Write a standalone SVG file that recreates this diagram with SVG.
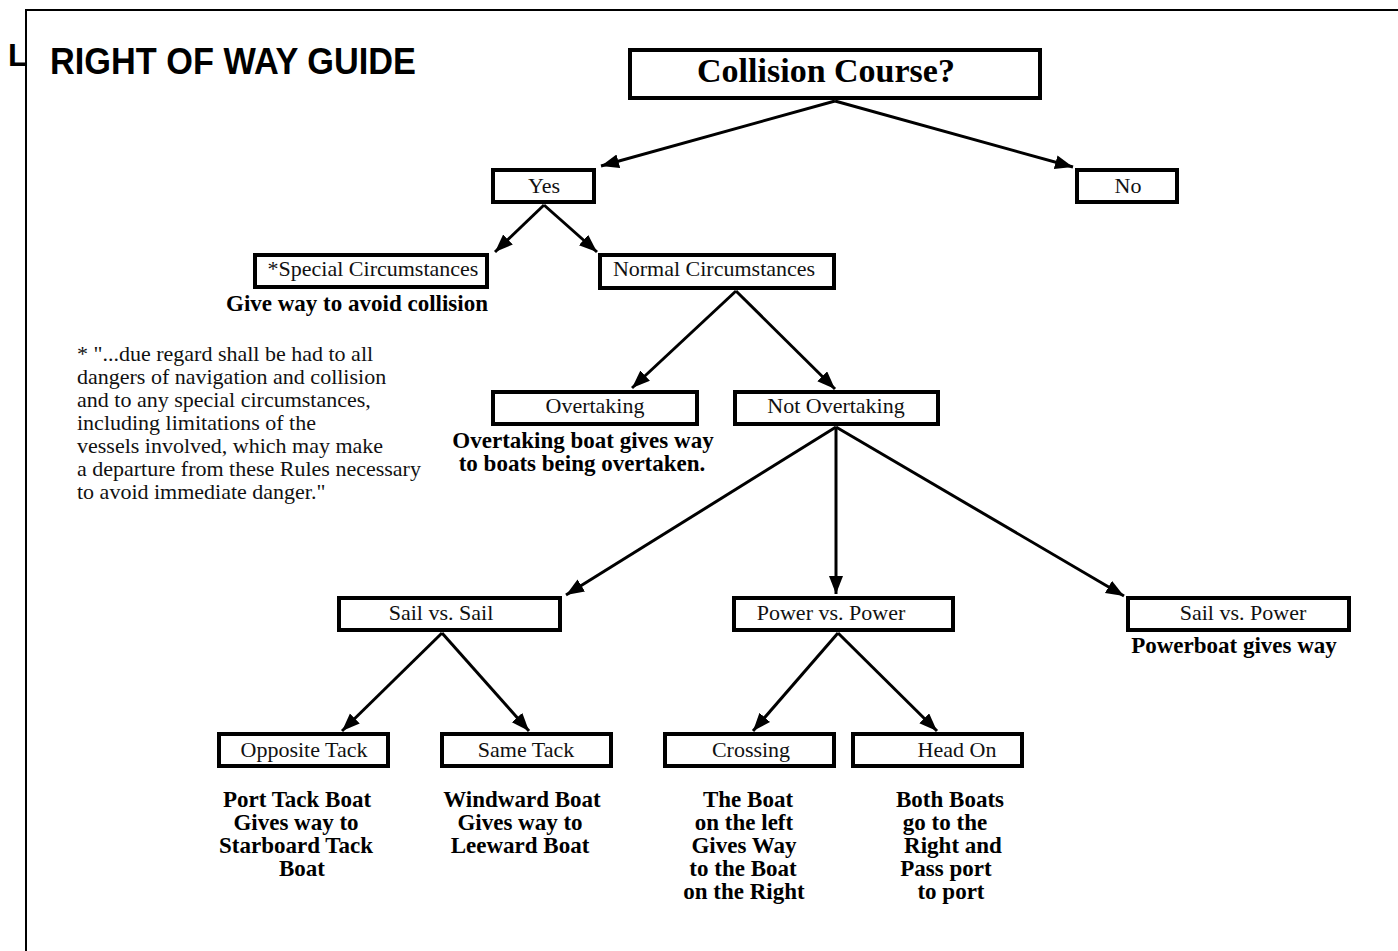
<svg xmlns="http://www.w3.org/2000/svg" width="1398" height="951" viewBox="0 0 1398 951">
<style>
.box{fill:#fff;stroke:#000;stroke-width:4}
.lbl{font-family:"Liberation Serif","Times New Roman",serif;font-size:22px;fill:#111;text-anchor:middle}
.note{font-family:"Liberation Serif","Times New Roman",serif;font-size:23px;font-weight:bold;fill:#000;text-anchor:middle}
.foot{font-family:"Liberation Serif","Times New Roman",serif;font-size:22px;fill:#111}
.conn{stroke:#000;stroke-width:3;fill:none;marker-end:url(#ah)}
</style>
<defs>
<marker id="ah" markerUnits="userSpaceOnUse" markerWidth="20" markerHeight="16" refX="18" refY="7" orient="auto">
<path d="M0,0 L18,7 L0,14 z" fill="#000"/>
</marker>
</defs>
<rect width="1398" height="951" fill="#fff"/>
<g id="frame">
<path d="M26,951 L26,10 L1398,10" fill="none" stroke="#000" stroke-width="2"/>
<text x="8" y="66" font-family="'Liberation Sans',Arial,sans-serif" font-weight="bold" font-size="32">L</text>
<text x="50" y="74" font-family="'Liberation Sans',Arial,sans-serif" font-weight="bold" font-size="37" textLength="366" lengthAdjust="spacingAndGlyphs">RIGHT OF WAY GUIDE</text>
</g>
<g id="connectors">
<path class="conn" d="M835,101 L601,166"/>
<path class="conn" d="M835,101 L1073,167"/>
<path class="conn" d="M544,205 L495,252"/>
<path class="conn" d="M544,205 L597,252"/>
<path class="conn" d="M736,291 L632,388"/>
<path class="conn" d="M736,291 L835,389"/>
<path class="conn" d="M836,427 L566,595"/>
<path class="conn" d="M836,427 L836,594"/>
<path class="conn" d="M836,427 L1124,596"/>
<path class="conn" d="M442,633 L342,731"/>
<path class="conn" d="M442,633 L529,731"/>
<path class="conn" d="M838,633 L753,731"/>
<path class="conn" d="M838,633 L937,731"/>
</g>
<g id="collision">
<rect class="box" x="630" y="50" width="410" height="48"/>
<text x="826" y="82" font-family="'Liberation Serif','Times New Roman',serif" font-weight="bold" font-size="34" text-anchor="middle" fill="#000">Collision Course?</text>
</g>
<g id="yes">
<rect class="box" x="493" y="170" width="101" height="32"/>
<text class="lbl" x="544" y="193">Yes</text>
</g>
<g id="no">
<rect class="box" x="1077" y="170" width="100" height="32"/>
<text class="lbl" x="1128" y="193">No</text>
</g>
<g id="special">
<rect class="box" x="255" y="255" width="232" height="32"/>
<text class="lbl" x="373" y="276">*Special Circumstances</text>
<text class="note" x="357" y="311">Give way to avoid collision</text>
</g>
<g id="normal">
<rect class="box" x="600" y="255" width="234" height="33"/>
<text class="lbl" x="714" y="276">Normal Circumstances</text>
</g>
<g id="footnote">
<text class="foot" x="77" y="361">* "...due regard shall be had to all</text>
<text class="foot" x="77" y="384">dangers of navigation and collision</text>
<text class="foot" x="77" y="407">and to any special circumstances,</text>
<text class="foot" x="77" y="430">including limitations of the</text>
<text class="foot" x="77" y="453">vessels involved, which may make</text>
<text class="foot" x="77" y="476">a departure from these Rules necessary</text>
<text class="foot" x="77" y="499">to avoid immediate danger."</text>
</g>
<g id="overtaking">
<rect class="box" x="493" y="392" width="204" height="32"/>
<text class="lbl" x="595" y="413">Overtaking</text>
<text class="note" x="583" y="448">Overtaking boat gives way</text>
<text class="note" x="582" y="471">to boats being overtaken.</text>
</g>
<g id="notovertaking">
<rect class="box" x="735" y="392" width="203" height="32"/>
<text class="lbl" x="836" y="413">Not Overtaking</text>
</g>
<g id="sailsail">
<rect class="box" x="339" y="598" width="221" height="32"/>
<text class="lbl" x="441" y="620">Sail vs. Sail</text>
</g>
<g id="powerpower">
<rect class="box" x="734" y="598" width="219" height="32"/>
<text class="lbl" x="831" y="620">Power vs. Power</text>
</g>
<g id="sailpower">
<rect class="box" x="1128" y="598" width="221" height="32"/>
<text class="lbl" x="1243" y="620">Sail vs. Power</text>
<text class="note" x="1234" y="653">Powerboat gives way</text>
</g>
<g id="opposite">
<rect class="box" x="219" y="734" width="169" height="32"/>
<text class="lbl" x="304" y="757">Opposite Tack</text>
<text class="note" x="297" y="807">Port Tack Boat</text>
<text class="note" x="296" y="830">Gives way to</text>
<text class="note" x="296" y="853">Starboard Tack</text>
<text class="note" x="302" y="876">Boat</text>
</g>
<g id="same">
<rect class="box" x="442" y="734" width="169" height="32"/>
<text class="lbl" x="526" y="757">Same Tack</text>
<text class="note" x="522" y="807">Windward Boat</text>
<text class="note" x="520" y="830">Gives way to</text>
<text class="note" x="520" y="853">Leeward Boat</text>
</g>
<g id="crossing">
<rect class="box" x="665" y="734" width="169" height="32"/>
<text class="lbl" x="751" y="757">Crossing</text>
<text class="note" x="748" y="807">The Boat</text>
<text class="note" x="744" y="830">on the left</text>
<text class="note" x="744" y="853">Gives Way</text>
<text class="note" x="743" y="876">to the Boat</text>
<text class="note" x="744" y="899">on the Right</text>
</g>
<g id="headon">
<rect class="box" x="853" y="734" width="169" height="32"/>
<text class="lbl" x="957" y="757">Head On</text>
<text class="note" x="950" y="807">Both Boats</text>
<text class="note" x="945" y="830">go to the</text>
<text class="note" x="953" y="853">Right and</text>
<text class="note" x="946" y="876">Pass port</text>
<text class="note" x="951" y="899">to port</text>
</g>
</svg>
